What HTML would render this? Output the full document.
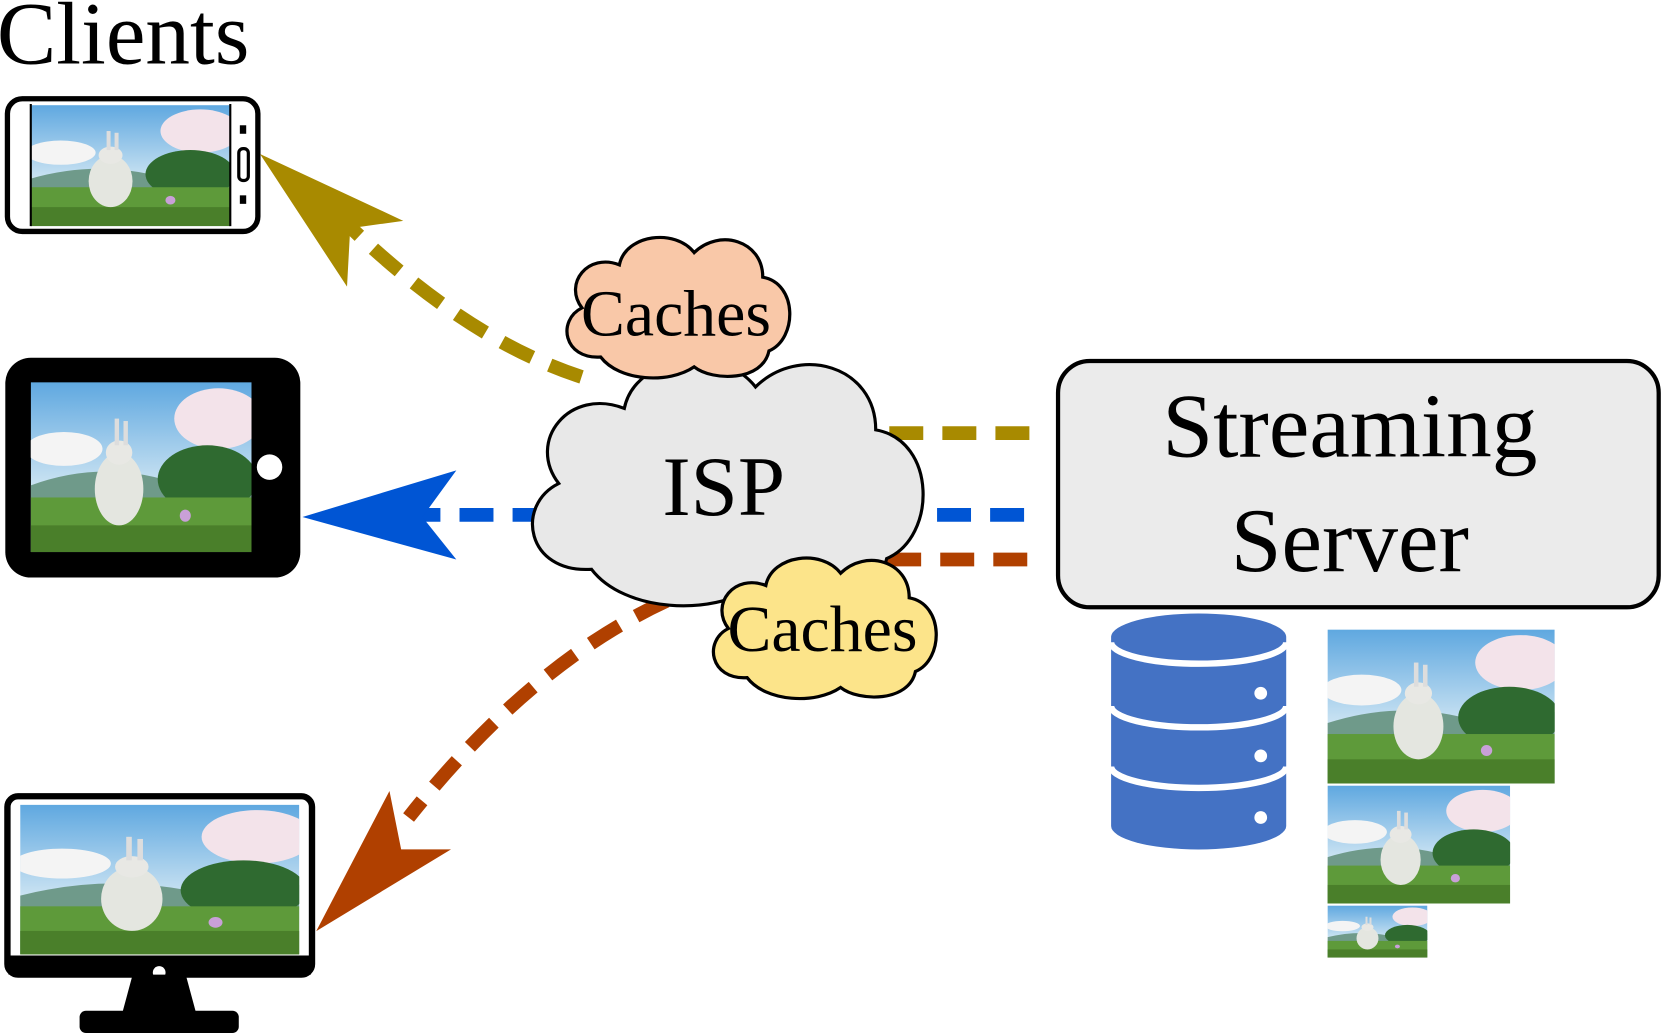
<!DOCTYPE html>
<html><head><meta charset="utf-8"><style>
html,body{margin:0;padding:0;background:#fff;}
svg{display:block;}
text{font-family:"Liberation Serif",serif;fill:#000;}
</style></head><body>
<svg width="1664" height="1033" viewBox="0 0 1568 973" preserveAspectRatio="none" xmlns="http://www.w3.org/2000/svg">
<defs>
<linearGradient id="sky" x1="0" y1="0" x2="0" y2="1">
<stop offset="0" stop-color="#5fa8e0"/><stop offset="0.6" stop-color="#c9e2f2"/><stop offset="1" stop-color="#e8f0f0"/>
</linearGradient>
<symbol id="pic" viewBox="0 0 200 140" preserveAspectRatio="none">
<rect width="200" height="140" fill="url(#sky)"/>
<ellipse cx="170" cy="30" rx="40" ry="25" fill="#f3e3ea"/>
<ellipse cx="30" cy="55" rx="35" ry="14" fill="#f4f4f4"/>
<path d="M0,85 Q60,65 120,80 T200,75 V140 H0Z" fill="#6f9a8a"/>
<ellipse cx="160" cy="80" rx="45" ry="28" fill="#2f6a30"/>
<rect x="0" y="95" width="200" height="45" fill="#5e9a3a"/>
<rect x="0" y="118" width="200" height="22" fill="#4a7f2a"/>
<ellipse cx="80" cy="88" rx="22" ry="30" fill="#e4e6e0"/>
<ellipse cx="80" cy="58" rx="12" ry="10" fill="#e8e8e4"/>
<rect x="76" y="30" width="4" height="22" fill="#ddd"/><rect x="84" y="32" width="4" height="20" fill="#ddd"/>
<circle cx="140" cy="110" r="5" fill="#c9a0d8"/>
</symbol>
<path id="cloud" d="M40,110 C10,112 5,80 25,70 C10,50 30,25 55,35 C60,10 100,5 115,25 C135,5 170,15 170,45 C198,50 198,95 175,105 C170,130 130,130 115,118 C95,132 55,130 40,110 Z"/>
</defs>

<text x="-3" y="60" font-size="84">Clients</text>

<!-- phone -->
<rect x="7" y="93" width="236" height="125" rx="14" fill="#fff" stroke="#000" stroke-width="5"/>
<use href="#pic" x="29" y="99" width="188" height="114"/>
<line x1="217" y1="98" x2="217" y2="213" stroke="#000" stroke-width="2"/>
<line x1="29" y1="98" x2="29" y2="213" stroke="#000" stroke-width="2"/>
<rect x="225" y="140" width="9" height="30" rx="4" fill="none" stroke="#000" stroke-width="3"/>
<rect x="226" y="118" width="6" height="8" fill="#000"/>
<rect x="226" y="184" width="6" height="8" fill="#000"/>

<!-- tablet -->
<rect x="5" y="337" width="278" height="207" rx="24" fill="#000"/>
<use href="#pic" x="29" y="360" width="208" height="160"/>
<circle cx="254" cy="440" r="12" fill="#fff"/>

<!-- monitor -->
<rect x="7" y="750" width="287" height="168" rx="10" fill="#fff" stroke="#000" stroke-width="6"/>
<use href="#pic" x="19" y="758" width="263" height="141"/>
<rect x="8" y="900" width="285" height="18" fill="#000"/>
<circle cx="150" cy="916" r="6" fill="#fff"/>
<path d="M125,918 H175 L185,955 H115Z" fill="#000"/>
<rect x="75" y="952" width="150" height="21" rx="6" fill="#000"/>

<!-- dashed lines -->
<g fill="none" stroke-width="13" stroke-dasharray="32,18">
<line x1="970" y1="408" x2="830" y2="408" stroke="#a88a00"/>
<path d="M548,355 Q440,320 328,212" stroke="#a88a00"/>
<line x1="965" y1="485" x2="395" y2="485" stroke="#0055d4"/>
<line x1="968" y1="527" x2="810" y2="527" stroke="#b04000"/>
<path d="M628,566 Q500,625 385,770" stroke="#b04000"/>
</g>
<polygon points="245,145 380,208 330,215 327,270" fill="#a88a00"/>
<polygon points="285,487 430,443 398,487 430,527" fill="#0055d4"/>
<polygon points="298,877 367,745 378,800 425,800" fill="#b04000"/>

<!-- clouds -->
<use href="#cloud" transform="translate(475,314) scale(2.06,2.02)" fill="#e8e8e8" stroke="#000" stroke-width="1.45"/>
<text x="682" y="485" font-size="80" text-anchor="middle">ISP</text>
<use href="#cloud" transform="translate(519,209) scale(1.175,1.157)" fill="#f9c8a8" stroke="#000" stroke-width="2.6"/>
<text x="637" y="316" font-size="62" text-anchor="middle">Caches</text>
<use href="#cloud" transform="translate(657,511) scale(1.175,1.157)" fill="#fce48a" stroke="#000" stroke-width="2.6"/>
<text x="775" y="613" font-size="62" text-anchor="middle">Caches</text>

<!-- server -->
<rect x="997" y="340" width="566" height="232" rx="30" fill="#ebebeb" stroke="#000" stroke-width="4"/>
<text x="1272" y="430" font-size="86" text-anchor="middle">Streaming</text>
<text x="1272" y="538" font-size="86" text-anchor="middle">Server</text>

<!-- database -->
<g fill="#4472c4">
<path d="M1047,600 A82,22 0 0 1 1212,600 V778 A82,22 0 0 1 1047,778Z"/>
</g>
<g fill="none" stroke="#fff" stroke-width="6">
<path d="M1047,605 A82,20 0 0 0 1212,605"/>
<path d="M1047,665 A82,20 0 0 0 1212,665"/>
<path d="M1047,722 A82,20 0 0 0 1212,722"/>
</g>
<g fill="#fff"><circle cx="1188" cy="653" r="6"/><circle cx="1188" cy="712" r="6"/><circle cx="1188" cy="770" r="6"/></g>

<use href="#pic" x="1251" y="593" width="214" height="145"/>
<use href="#pic" x="1251" y="740" width="172" height="111"/>
<use href="#pic" x="1251" y="853" width="94" height="49"/>
</svg>
</body></html>
